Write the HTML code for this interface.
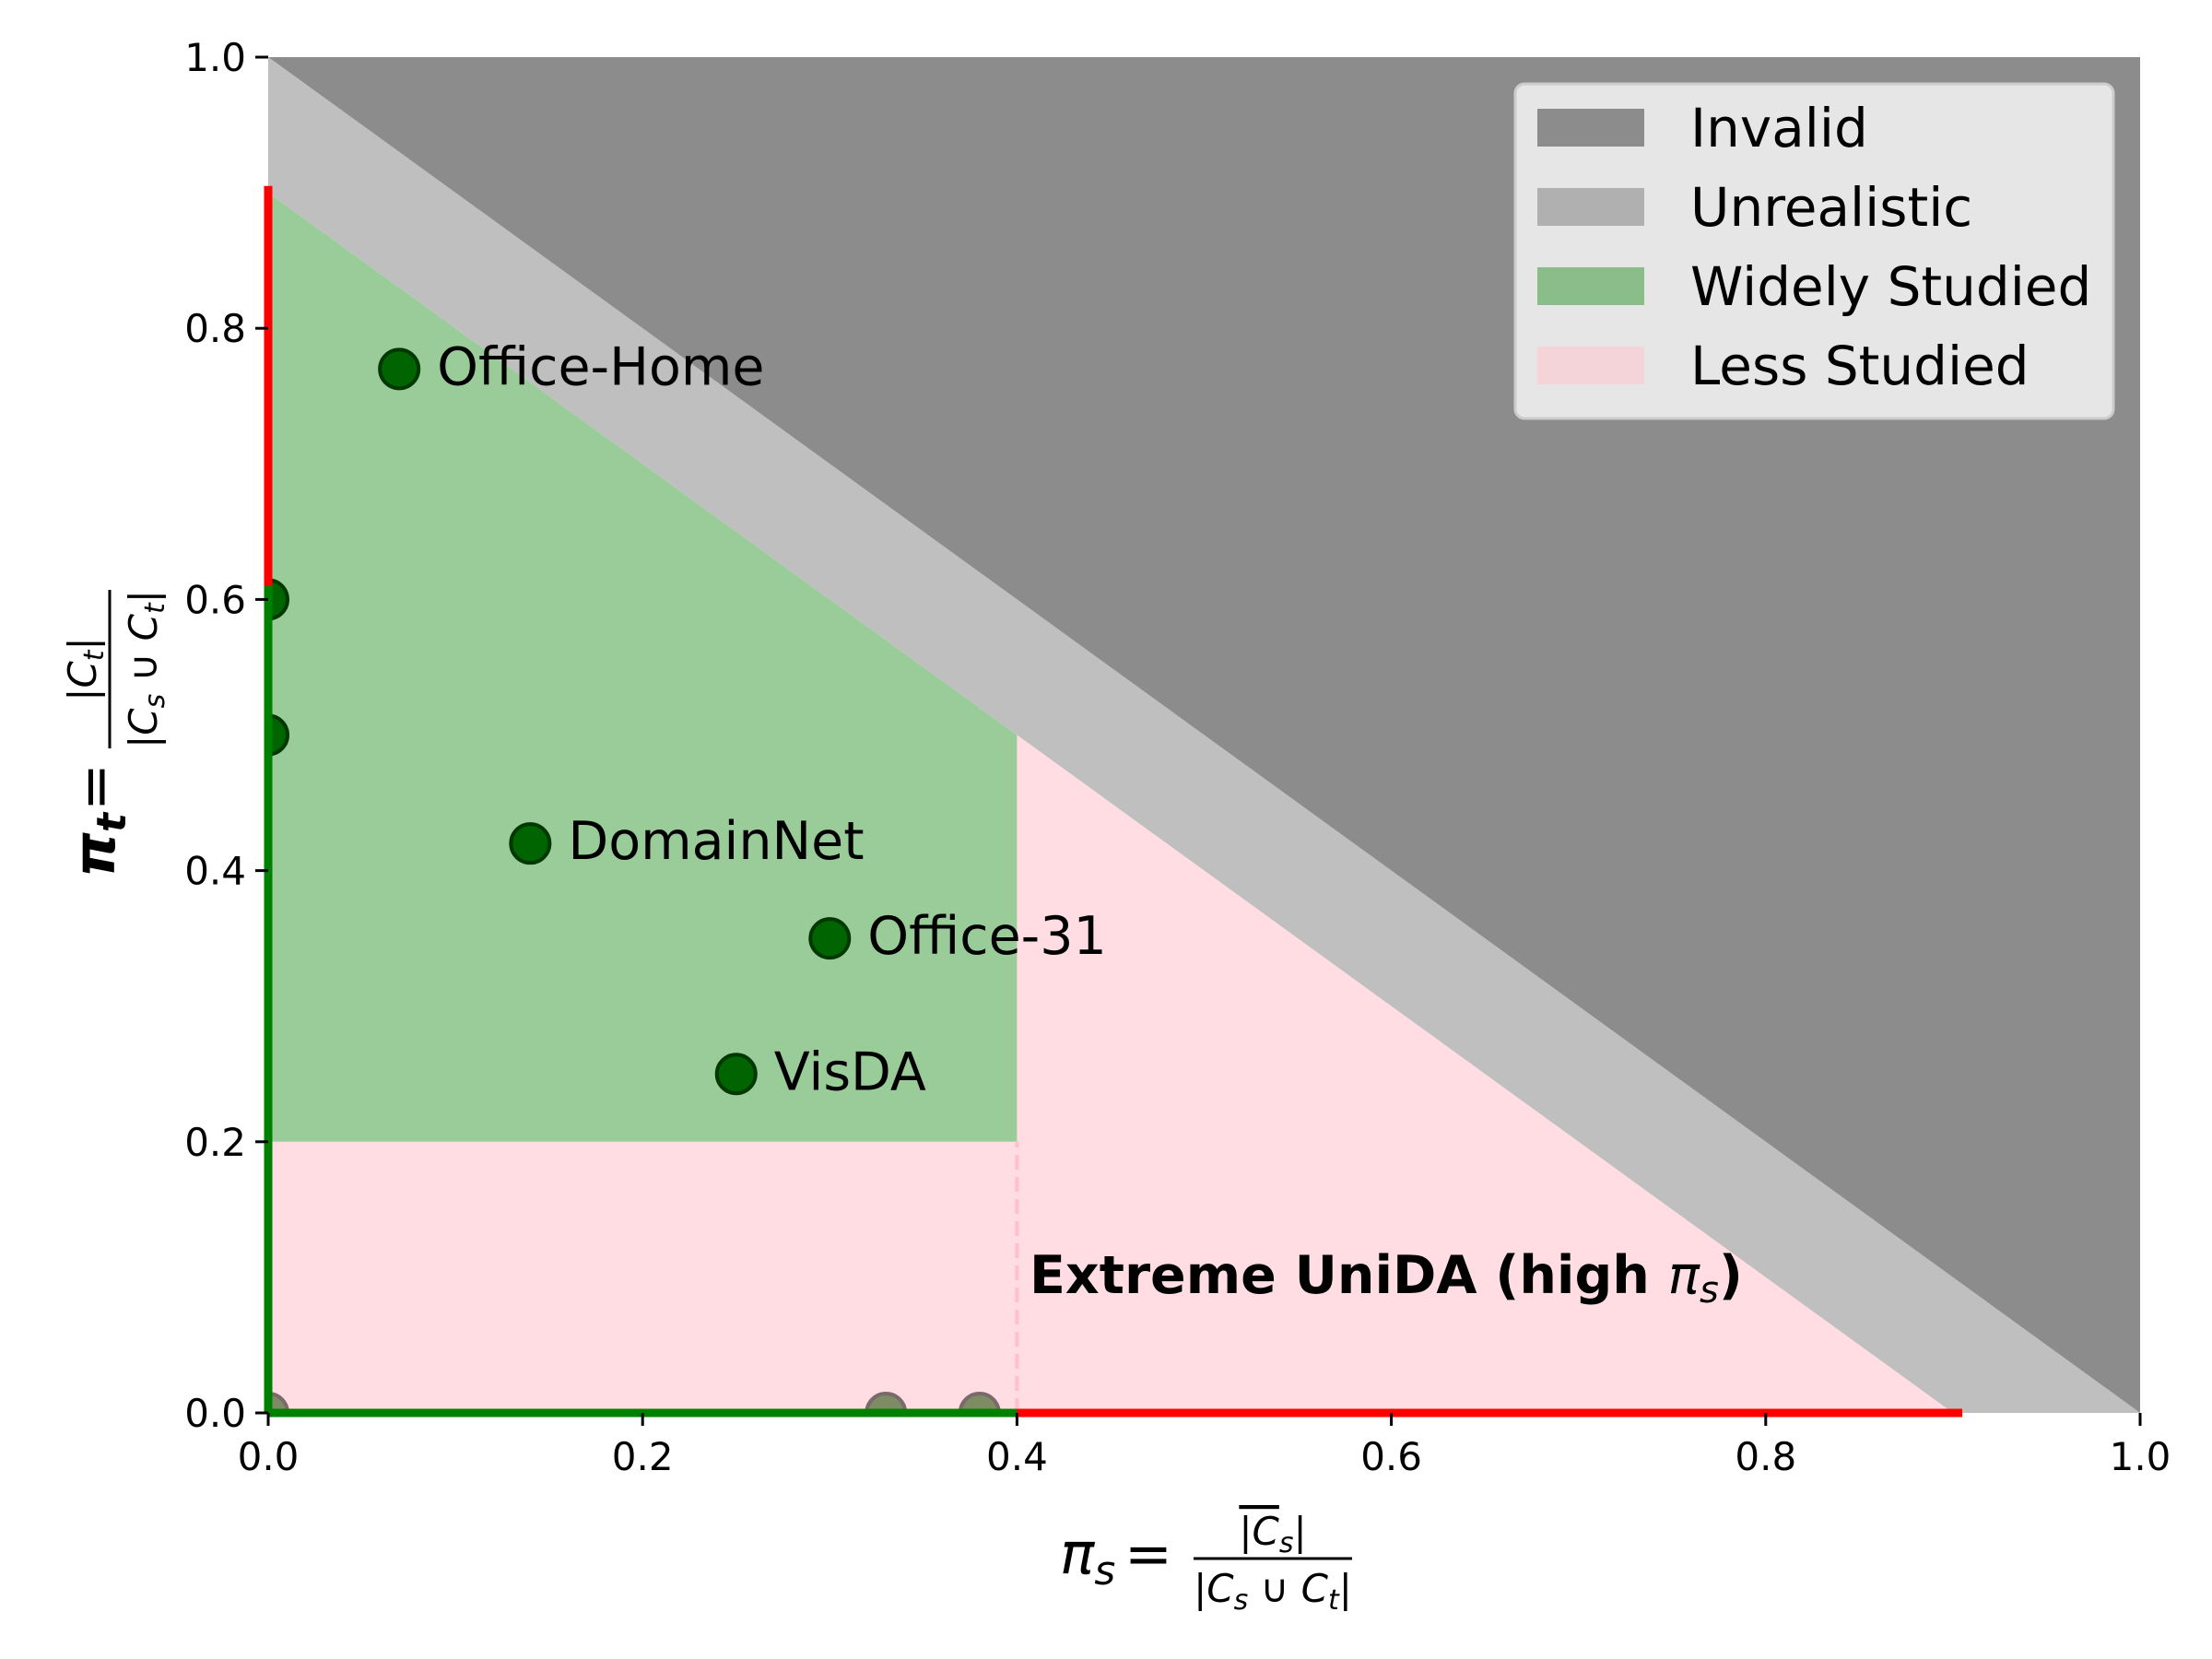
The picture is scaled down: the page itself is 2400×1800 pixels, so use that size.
<!DOCTYPE html>
<html><head><meta charset="utf-8"><style>
html,body{margin:0;padding:0;background:#fff;}
svg{display:block;font-family:"DejaVu Sans","Liberation Sans",sans-serif;}
</style></head><body>
<svg id="chart" width="2400" height="1800" viewBox="0 0 2400 1800" xmlns="http://www.w3.org/2000/svg">
<defs><clipPath id="axclip"><rect x="291" y="62" width="2031" height="1471"/></clipPath></defs>
<g id="plot" clip-path="url(#axclip)"></g>
<g id="annot"></g>
<g id="axes"></g>
<g id="legend"></g>
<g>
  <text x="1150" y="1707" font-size="62" font-style="italic">π<tspan font-size="44" dy="12">s</tspan></text>
  <text x="1220" y="1707" font-size="62">=</text>
  <text x="1381" y="1676" font-size="42" text-anchor="middle"><tspan font-style="italic" text-decoration="overline">|C</tspan><tspan font-size="30" font-style="italic" dy="8">s</tspan><tspan dy="-8">|</tspan></text>
  <line x1="1295" y1="1691" x2="1467" y2="1691" stroke="#000" stroke-width="3"/>
  <text x="1381" y="1738" font-size="42" text-anchor="middle">|<tspan font-style="italic">C</tspan><tspan font-size="30" font-style="italic" dy="8">s</tspan><tspan dy="-8"> ∪ </tspan><tspan font-style="italic">C</tspan><tspan font-size="30" font-style="italic" dy="8">t</tspan><tspan dy="-8">|</tspan></text>
</g>
<g transform="rotate(-90)">
  <text x="-952" y="124" font-size="62" font-style="italic" font-weight="bold">π<tspan font-size="44" dy="12">t</tspan></text>
  <text x="-880" y="124" font-size="62">=</text>
  <text x="-726" y="104" font-size="42" text-anchor="middle"><tspan font-style="italic">|C</tspan><tspan font-size="30" font-style="italic" dy="8">t</tspan><tspan dy="-8">|</tspan></text>
  <line x1="-812" y1="119" x2="-640" y2="119" stroke="#000" stroke-width="3"/>
  <text x="-726" y="170" font-size="42" text-anchor="middle">|<tspan font-style="italic">C</tspan><tspan font-size="30" font-style="italic" dy="8">s</tspan><tspan dy="-8"> ∪ </tspan><tspan font-style="italic">C</tspan><tspan font-size="30" font-style="italic" dy="8">t</tspan><tspan dy="-8">|</tspan></text>
</g>
<g>
  <text x="1117" y="1403" font-size="57" font-weight="bold">Extreme UniDA (high <tspan font-weight="normal" font-style="italic">π</tspan><tspan font-weight="normal" font-style="italic" font-size="40" dy="10">s</tspan><tspan dy="-10">)</tspan></text>
</g>
<script>
const xTicks = [0.0, 0.2, 0.4, 0.6, 0.8, 1.0];
const yTicks = [0.0, 0.2, 0.4, 0.6, 0.8, 1.0];
const datasetNames = ["Office-Home", "DomainNet", "Office-31", "VisDA"];
const datasetX = [0.07, 0.14, 0.30, 0.25];
const datasetY = [0.77, 0.42, 0.35, 0.25];
const axisPointX = [0, 0];
const axisPointY = [0.6, 0.5];
const bottomPointX = [0, 0.33, 0.38];
const bottomPointY = [0, 0, 0];
const invalidSum = 1.0;
const realisticSum = 0.9;
const widelyMaxS = 0.4;
const widelyMinT = 0.2;
const legendLabels = ["Invalid", "Unrealistic", "Widely Studied", "Less Studied"];
const legendColors = ["#8c8c8c", "#b0b0b0", "#8bbd8b", "#f4d4d9"];

const NS = "http://www.w3.org/2000/svg";
const X0 = 291, X1 = 2322, Y0 = 1533, Y1 = 62;
const sx = v => X0 + v * (X1 - X0);
const sy = v => Y0 - v * (Y0 - Y1);
function mk(tag, attrs, parent) {
  const e = document.createElementNS(NS, tag);
  for (const k in attrs) e.setAttribute(k, attrs[k]);
  parent.appendChild(e);
  return e;
}
const plot = document.getElementById("plot");
const annot = document.getElementById("annot");
const axes = document.getElementById("axes");
const legend = document.getElementById("legend");
const pts = a => a.map(p => sx(p[0]) + "," + sy(p[1])).join(" ");

let e;
e = mk("polygon", {points: pts([[0, invalidSum], [1, invalidSum], [1, 0]]), fill: "#8c8c8c"}, plot);


e = mk("polygon", {points: pts([[0, realisticSum], [0, invalidSum], [1, 0], [realisticSum, 0]]), fill: "#bfbfbf"}, plot);


e = mk("polygon", {points: pts([[0, 0], [0, widelyMinT], [widelyMaxS, widelyMinT], [widelyMaxS, realisticSum - widelyMaxS], [realisticSum, 0]]), fill: "#ffdde3"}, plot);


e = mk("polygon", {points: pts([[0, widelyMinT], [0, realisticSum], [widelyMaxS, realisticSum - widelyMaxS], [widelyMaxS, widelyMinT]]), fill: "#9acc9a"}, plot);


e = mk("line", {x1: sx(widelyMaxS), y1: sy(0), x2: sx(widelyMaxS), y2: sy(widelyMinT), stroke: "#ffc0cb", "stroke-width": 4, "stroke-dasharray": "16,8"}, plot);



bottomPointX.forEach((v, i) => {
  const c = mk("circle", {cx: sx(v), cy: sy(bottomPointY[i]), r: 21, fill: "#7d8c62", stroke: "#7a6a6e", "stroke-width": 4}, plot);
  
  
});

e = mk("line", {x1: sx(0), y1: sy(0.905), x2: sx(0), y2: sy(0), stroke: "#ff0000", "stroke-width": 9}, annot);


e = mk("line", {x1: sx(0), y1: sy(0), x2: sx(0.905), y2: sy(0), stroke: "#ff0000", "stroke-width": 9}, annot);


e = mk("line", {x1: sx(0), y1: sy(0.61), x2: sx(0), y2: sy(0), stroke: "#008000", "stroke-width": 9}, annot);


e = mk("line", {x1: sx(0), y1: sy(0), x2: sx(0.4), y2: sy(0), stroke: "#008000", "stroke-width": 9}, annot);



axisPointX.forEach((v, i) => {
  const c = mk("circle", {cx: sx(v), cy: sy(axisPointY[i]), r: 21, fill: "#006400", stroke: "#003800", "stroke-width": 4}, plot);
  
  
});
datasetX.forEach((v, i) => {
  const c = mk("circle", {cx: sx(v), cy: sy(datasetY[i]), r: 21, fill: "#006400", stroke: "#003800", "stroke-width": 4}, plot);
  
  
  const t = mk("text", {x: sx(v) + 41, y: sy(datasetY[i]) + 17, "font-size": 57, fill: "#000"}, annot);
  t.textContent = datasetNames[i];
  
  
});

xTicks.forEach(v => {
  const l = mk("line", {x1: sx(v), y1: Y0, x2: sx(v), y2: Y0 + 14, stroke: "#000", "stroke-width": 3}, axes);
  
  
  const t = mk("text", {x: sx(v), y: Y0 + 62, "font-size": 42, "text-anchor": "middle"}, axes);
  t.textContent = v.toFixed(1);
  
  
});
yTicks.forEach(v => {
  const l = mk("line", {x1: X0 - 14, y1: sy(v), x2: X0, y2: sy(v), stroke: "#000", "stroke-width": 3}, axes);
  
  
  const t = mk("text", {x: X0 - 24, y: sy(v) + 15, "font-size": 42, "text-anchor": "end"}, axes);
  t.textContent = v.toFixed(1);
  
  
});

e = mk("rect", {x: 1644, y: 91, width: 649, height: 363, rx: 10, fill: "#e6e6e6", stroke: "#cccccc", "stroke-width": 3}, legend);


legendLabels.forEach((lab, i) => {
  const g = mk("g", {}, legend);
  
  
  mk("rect", {x: 1668, y: 118 + i * 86, width: 116, height: 41, fill: legendColors[i]}, g);
  const t = mk("text", {x: 1834, y: 159 + i * 86, "font-size": 58}, g);
  t.textContent = lab;
});
</script>
</svg>
</body></html>
